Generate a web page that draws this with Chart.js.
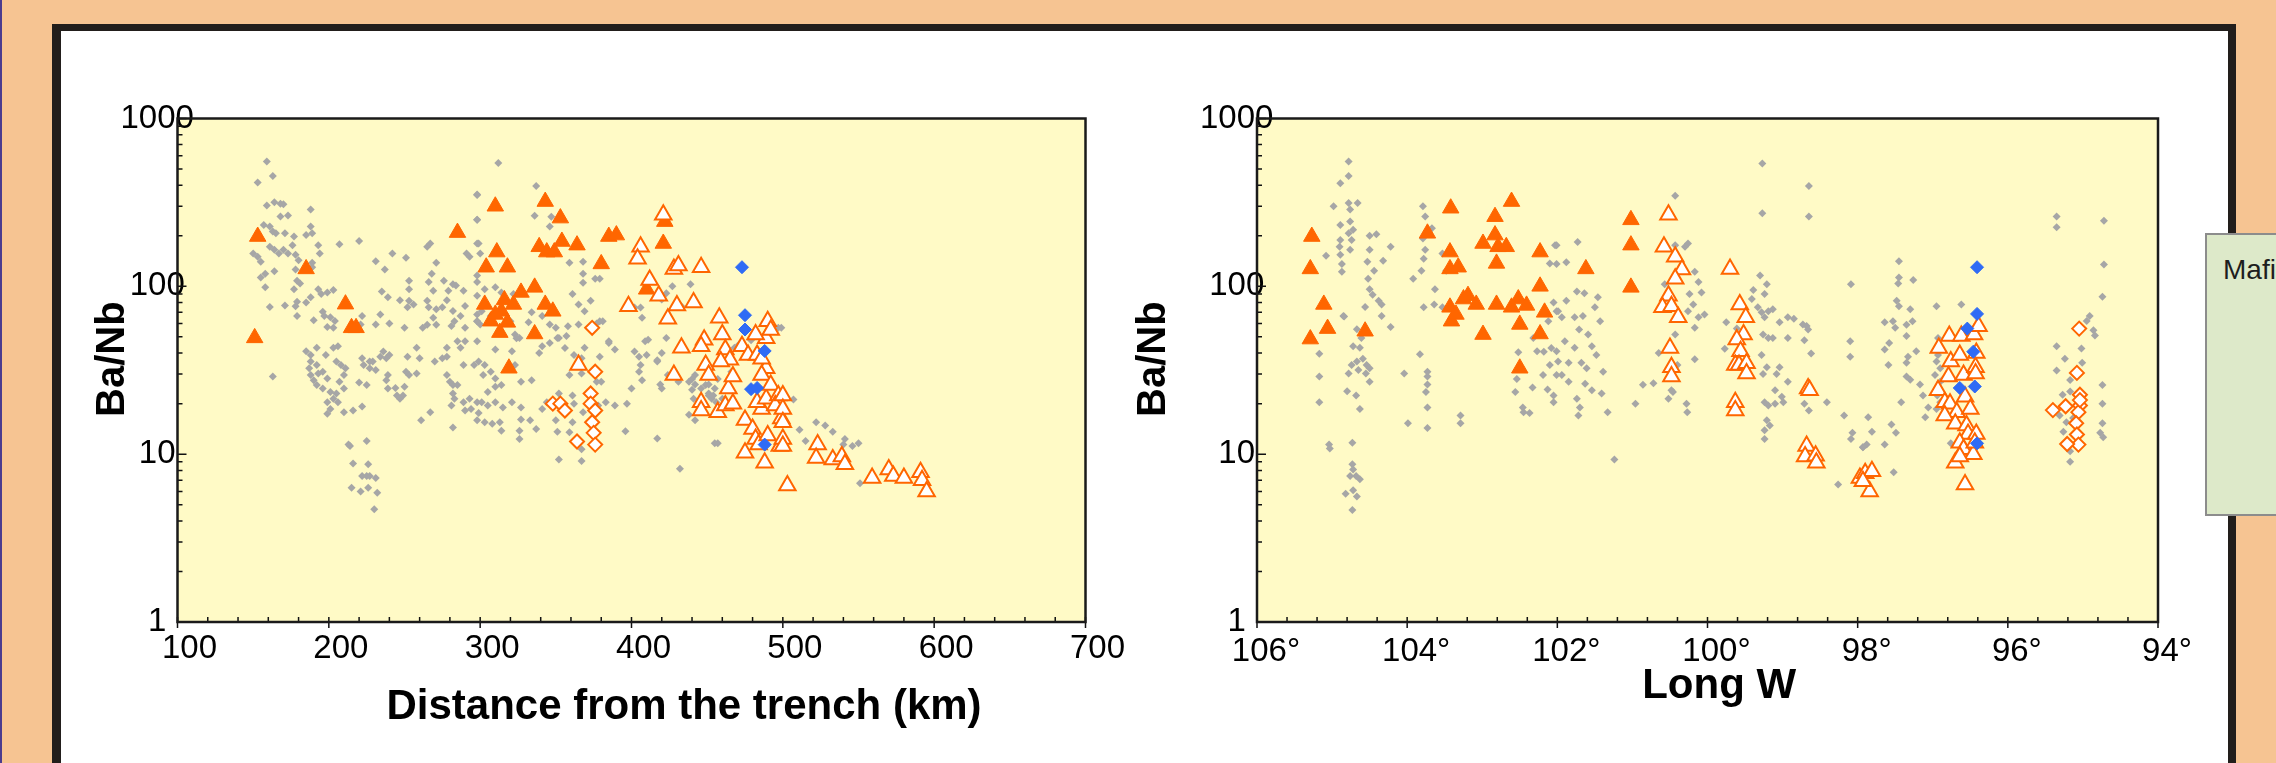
<!DOCTYPE html>
<html>
<head>
<meta charset="utf-8">
<script src="https://cdn.jsdelivr.net/npm/chart.js@4.4.1/dist/chart.umd.min.js"></script>
<style>
  html, body { margin: 0; padding: 0; }
  body {
    width: 2276px; height: 763px; overflow: hidden; position: relative;
    background: #F6C492; font-family: "Liberation Sans", Arial, sans-serif;
  }
  #edge { position: absolute; left: 0; top: 0; width: 2px; height: 763px; background: #4B3C8E; }
  #panel {
    position: absolute; left: 52px; top: 24px; width: 2167px; height: 800px;
    background: #fff; border-left: 9px solid #221E1B; border-top: 7px solid #221E1B;
    border-right: 8px solid #221E1B;
  }
  canvas { position: absolute; top: 40px; }
  #distChart { left: 60px; }
  #longChart { left: 1110px; }
  #legendBox {
    position: absolute; left: 2205px; top: 233px; width: 200px; height: 283px;
    box-sizing: border-box; background: #DDE9C9; border: 2px solid #8C8C8C;
  }
  #legendText {
    position: absolute; left: 2223px; top: 254px; font-size: 28px; line-height: 32px;
    color: #1E1E1E; white-space: nowrap;
  }
</style>
</head>
<body>
<div id="edge"></div>
<div id="panel"></div>
<canvas id="distChart" width="1080" height="723"></canvas>
<canvas id="longChart" width="1090" height="723"></canvas>
<div id="legendBox"></div>
<div id="legendText">Mafi</div>

<script>
// Ba/Nb against distance from the trench (km)
const grayDist = [
  [159,555],[163,455],[153,415],[159,303],[164,317],[168,310],[170,308],[188,287],[168,261],[173,264],
  [157,232],[161,227],[163,212],[165,207],[171,207],[177,198],[185,202],[188,227],[189,207],[193,176],
  [150,157],[153,150],[155,140],[161,172],[164,165],[167,157],[170,165],[173,157],[176,176],[178,154],
  [180,143],[194,157],[189,138],[207,178],[220,186],[155,113],[158,119],[164,123],[158,98.6],[178,126],
  [179,108],[177,96],[181,104],[189,130],[231,141],[237,126],[242,157],[251,148],[161,75.4],[171,77],
  [179,81],[178,76],[179,66.5],[185,80],[188,86],[193,96],[195,90],[199,92],[203,95],[190,62.7],
  [196,70.5],[197,66.5],[201,65.5],[199,57.2],[203,56.6],[204,62.1],[222,66.5],[221,59.3],[231,59.3],[235,93.2],
  [239,86],[234,68],[240,60],[247,82.7],[253,108],[253,96],[253,82],[252,75],[256,78],[250,56.6],
  [265,172],[267,180],[271,138],[268,119],[266,106],[269,94],[265,82],[266,75],[271,73],[269,65],
  [265,59],[262,56.6],[271,59],[275,75],[276,108],[279,94],[282,103],[284,101],[278,82.7],[282,71.4],
  [283,62],[281,58],[287,66.5],[290,76.4],[289,94],[298,88],[298,68],[298,62],[298,180],[298,249],
  [298,350],[298,116],[293,150],[291,157],[290,56.6],[290,47],[285,47],[296,34],[289,34],[287,43],
  [278,43],[278,38],[275,37.3],[270,35.6],[258,43],[260,37.3],[252,38],[258,30.2],[278,29.6],[280,27],
  [282,25.8],[285,25.8],[282,23],[281,19.5],[283,21.4],[289,20.4],[293,21.4],[294,18.6],[298,20.4],[298,15.9],
  [290,18.2],[282,14.4],[267,17.8],[261,15.9],[250,25.2],[249,22.4],[247,21.4],[245,22.4],[253,29.6],[251,31],
  [240,39],[236,40.9],[238,37.3],[234,38],[229,35.6],[222,37.3],[223,34],[227,32.5],[231,31.7],[239,29.6],
  [238,27.6],[239,24.6],[244,24.8],[185,41],[188,39],[192,43],[198,39],[203,43],[206,44],[188,35.6],
  [192,34],[187,32.5],[188,29.6],[190,27.6],[193,30.2],[196,31],[199,28.2],[192,25.8],[196,24.6],[201,23.5],
  [205,23],[203,21.4],[206,20.4],[199,20.4],[201,18.6],[199,17.4],[205,35.6],[208,34],[211,32.5],[210,29.6],
  [207,27],[210,24.6],[210,17.8],[216,18.2],[222,19.2],[220,26.7],[225,25.8],[227,35.6],[163,29],[213,11.4],
  [214,11.2],[225,12],[216,8.8],[226,8.7],[222,7.4],[225,7.4],[227,7.4],[231,7.2],[215,6.3],[221,6.0],
  [226,6.3],[232,5.9],[230,4.7],
  [312,543],[298,352],[337,396],[336,263],[347,260],[346,227],[298,249],[299,180],[300,157],[359,138],
  [368,140],[368,119],[368,105],[376,111],[379,111],[298,106],[310,98.6],[361,90],[365,78],[369,71],
  [373,82],[381,62],[379,62],[377,60],[365,59.3],[358,57.8],[357,50.6],[352,49.3],[350,56.6],[332,61],
  [323,51.6],[326,49.3],[339,40.1],[341,44],[346,45.9],[351,49.3],[356,42.9],[362,39],[367,37.3],[369,43],
  [379,38],[385,46],[389,42],[402,40.9],[405,38],[406,34],[405,31],[410,39],[411,48],[417,35.6],
  [420,24.6],[407,27.6],[397,20],[383,20.4],[380,27],[377,27],[367,30.2],[359,29.6],[361,22.4],[362,20],
  [368,17.8],[361,15.5],[359,13.5],[367,10.7],[367,9.1],[352,9.3],[351,13.6],[350,15.9],[337,14.1],[333,15.9],
  [326,13.8],[326,12.3],[327,16.1],[327,19],[334,27.6],[341,18.6],[344,20.4],[352,23],[321,20.4],[315,19],
  [303,15.5],[313,15.5],[308,15.2],[314,13.8],[299,17.6],[305,19.5],[310,20.4],[301,20.4],[305,23.5],[310,25.2],
  [314,25.8],[302,29.6],[307,31],[310,28.2],[303,34],[299,35.6],[310,42],[321,41],[327,27],[323,34],
  [324,49],[320,62],[300,59.3],[298,47],[307,66.5],[301,71],[298,62],[303,96],[314,92],[322,90],
  [334,70],[341,66.5],[346,59.3],[420,83.6],[423,91],[427,100],[439,103],[433,76],[423,49.3],[417,36.3],
  [406,74.7],[407,65],[402,74.7],[409,47],[419,26],[424,29.6],[420,40],[431,27],[438,27],[440,24.2],
  [442,29.6],[438,17.2],[442,15.9],[449,25.8],[455,24.6],[457,28],[446,24.6],[455,11.6],[457,11.6],[432,8.2],
  [417,12.4],[396,13.7],[451,22.4],[453,21.4],[456,20.4],[460,21.4],[466,31],[468,43],[471,45],[479,47.8],
  [495,56.6],[497,56.6],[400,24.6],[389,19.5],[378,19.5],[385,47],[440,28],[442,26],[451,26],[451,23],
  [454,22.4],[441,21.4],
  [499,56.6],[507,21.2],[511,14],[515,12],[522,15.5],[528,14.8],[533,13.6],[541,12.3],[540,11.4],[546,11.2],
  [550,11.6],[551,6.7]
];
const filledTriDist = [
  [153,198],[151,49.3],[185,127],[211,78.3],[215,56.6],[218,56.6],[285,209],[310,300],[343,320],[353,255],
  [311,160],[304,130],[318,130],[339,172],[344,160],[349,160],[354,185],[364,176],[380,136],[385,198],
  [390,202],[421,180],[422,243],[410,96],[327,92],[336,98.6],[303,78],[316,83],[322,78],[314,71],
  [343,78],[348,71],[307,62],[318,61],[313,53],[336,52],[319,32.5],[310,68]
];
const openTriDist = [
  [421,267],[406,172],[404,146],[428,127],[431,133],[446,130],[412,109],[418,88],[398,76],[430,77],
  [441,80],[424,64],[458,65],[433,43],[448,48],[446,44],[460,51.6],[462,42],[465,36.5],[459,35.6],
  [449,34],[451,29.6],[428,29.6],[365,34],[473,44],[477,39],[483,39],[464,24.6],[467,29],[446,20.4],
  [446,18.2],[457,17.8],[462,19.5],[467,20],[475,16],[480,14.1],[486,18.6],[483,20.4],[489,21.4],[489,32.5],
  [486,37],[489,49],[490,62],[492,55],[482,51.6],[486,29.6],[492,25.8],[497,22.4],[495,19.5],[499,16.3],
  [482,12.3],[475,10.2],[484,11.4],[488,8.9],[490,12.9],[498,11.2],[503,6.5],[500,22.4],[500,18.6],[500,15.5],
  [500,12.3],[500,11.2],[523,11.4],[522,9.5],[533,9.3],[539,9.7],[541,8.7],[559,7.2],[570,8.1],[573,7.4],
  [580,7.2],[591,7.8],[592,7.0],[595,6.0]
];
const openDiaDist = [
  [374,56.6],[376,31],[348,20],[353,20],[356,18.2],[373,23],[373,20],[376,18.2],[374,15.5],[375,13.4],
  [364,11.9],[376,11.4]
];
const blueDist = [[473,130],[475,67.3],[475,55.3],[488,41.2],[479,24.4],[483,24.8],[488,11.4]];

// Ba/Nb against longitude W (degrees)
const grayLong = [
  [104.78,555],[104.78,455],[104.89,411],[104.98,300],[104.78,314],[104.66,314],[104.76,287],[104.89,232],[104.76,243],[104.72,217],
  [104.78,207],[104.89,189],[104.74,189],[104.9,172],[104.76,165],[104.89,154],[104.87,136],[104.87,122],[105.08,152],[104.5,200],
  [104.41,204],[104.5,165],[104.53,140],[104.44,124],[104.32,142],[104.22,172],[104.52,111],[104.5,96],[104.46,89],[104.38,82],
  [104.34,78],[104.56,75.4],[104.34,66.5],[104.22,57.2],[104.85,66.5],[104.67,55.5],[104.61,49.3],[104.72,44],[104.63,43],[104.74,34],
  [104.67,35.6],[104.59,37],[104.54,34],[104.5,32.5],[104.55,30.2],[104.5,27],[104.78,30.2],[104.65,31.7],[104.8,23.7],[104.68,22.4],
  [104.63,18.6],[105.17,39.6],[105.17,29],[105.17,20.4],[105.04,11.4],[105.03,10.8],[104.73,11.7],[104.73,8.7],[104.72,8.1],[104.68,7.4],
  [104.76,7.4],[104.63,7.1],[104.82,5.8],[104.72,6.1],[104.67,5.6],[104.73,4.65],[104.84,66],[103.79,300],[103.76,261],[103.67,222],
  [103.79,193],[103.76,165],[103.78,146],[103.81,124],[103.92,111],[103.63,96],[103.64,78],[103.78,75],[103.53,157],[103.48,124],
  [103.53,75],[103.83,39.4],[103.73,31],[103.73,29],[103.73,26],[103.75,23.5],[103.73,19],[104.04,30.2],[103.99,15.3],[103.73,14.3],
  [103.29,17],[103.29,15.3],[102.52,40.5],[102.54,28],[102.56,23.5],[102.46,19],[102.37,17.6],[102.45,17.8],[102.33,25],[102.32,49.3],
  [102.27,41],[102.18,40.8],[102.19,29.6],[102.13,24.3],[102.1,34],[102.08,42.9],[102.05,22.4],[102.05,20.4],[102.12,62],[102.05,80],
  [102.1,137],[102.03,176],[102.01,71],[102.01,41],[102.01,29.6],
  [102.01,176],[101.73,184],[101.88,139],[102.01,136],[101.74,93],[101.64,91],[101.88,82],[101.99,71],[101.94,65.5],[101.77,65.5],
  [101.66,66.5],[101.71,55.3],[101.46,86],[101.5,75],[101.43,62],[101.59,51.6],[101.54,44],[101.48,39],[101.77,43],[101.9,47],
  [101.99,35.6],[101.85,35],[101.68,35],[101.61,32.5],[101.39,31],[101.94,29.6],[101.85,27],[101.63,26.3],[101.54,24],[101.41,23],
  [101.74,21.4],[101.7,19],[101.72,17],[101.33,17.8],[101.24,9.3],[100.96,20],[100.86,25.9],[100.72,26.5],[100.65,40],[100.52,21.4],
  [100.46,23.5],[100.28,20],[100.27,17.8],[100.17,36.8],[100.43,347],[100.43,176],[100.3,172],[100.26,180],[100.17,122],[100.12,106],
  [100.08,92],[100.24,90],[100.19,78],[100.26,71],[100.12,65.5],[100.04,68],[100.17,56.6],[100.57,103],[100.55,85],[100.43,51.6],
  [100.4,34],[100.48,24],[99.27,540],[99.27,273],[98.65,396],[98.65,261],[98.09,103],[99.3,116],[99.39,95],[99.21,103],
  [99.24,90],[99.41,84],[99.33,75],[99.28,70],[99.19,71],[99.13,73],[99.24,65.5],[99.75,61],[99.61,56],[99.77,42.4],
  [99.26,51.6],[99.19,49.3],[99.13,49.3],[98.93,49.3],[98.93,65.5],[98.85,64],[98.73,59.3],[98.68,58],[98.66,55.3],[98.71,47.8],
  [98.62,39.8],[99.04,61],[99.28,39],[99.21,33],[99.26,30],[99.08,30],[99.04,33],[98.93,27],[99.1,24],[99.01,22],
  [98.99,20.4],[99.24,20.4],[99.19,19.5],[99.1,20],[99.21,15.9],[99.17,14.8],[99.24,13.9],[99.24,12.3],[98.71,20],[98.65,18.2],
  [98.41,20.4],[98.18,17],[98.1,38],[98.1,47],[98.07,13.4],[98.09,12.3],[97.93,11],[98.26,6.6],
  [97.45,141],[97.45,113],[97.46,104],[97.26,109],[97.48,82],[97.45,76],[97.3,73],[97.27,62],[97.64,61],[97.53,62],
  [97.5,56.6],[97.35,59],[97.35,50.6],[97.58,46],[97.64,42],[97.59,34],[97.35,35],[97.33,38],[97.22,41],[97.35,29],
  [97.3,27.8],[97.17,26],[97.13,22.4],[97.06,19],[97.1,16.6],[97.42,20.4],[96.95,76],[96.62,78],[96.93,49.3],[96.95,35.6],
  [96.97,29.6],[96.9,27],[96.94,22.4],[96.95,18.6],[96.9,20.4],[97.86,16.6],[97.81,13.6],[97.88,11.4],[97.93,11],[97.64,11.4],
  [97.55,15],[97.49,13.4],[97.52,7.8],[96.76,11.6],[95.35,261],[95.35,225],[94.72,246],[94.72,135],[94.74,86.6],[94.91,66.5],
  [94.95,62.1],[94.86,54.7],[94.84,50.9],[95.35,44],[95.02,42.6],[95.24,37],[95.01,35],[95.35,31.5],[95.17,27.7],[94.74,25.8],
  [95.27,22.6],[95.17,23.6],[94.74,20],[95.31,17],[95.13,16.4],[95.22,15.5],[95.26,13.6],[94.74,15.3],[94.77,13.4],[94.73,12.6],
  [95.17,10.4],[95.17,9.0],[96.9,32.5],[96.93,39],[96.86,28]
];
const filledTriLong = [
  [105.27,198],[105.29,127],[105.11,78],[105.06,56],[105.29,48.5],[104.56,54],[103.73,207],[103.42,292],[103.43,160],[103.43,127],
  [103.32,130],[102.83,260],[102.99,180],[102.83,202],[102.79,172],[102.68,172],[102.81,137],[102.61,320],[103.19,88],[103.08,78],
  [102.81,78],[103.43,75],[103.41,62],[102.61,75],[102.52,84],[102.41,77],[102.23,100],[102.17,70],[102.5,59.3],[102.99,51.6],
  [102.23,52],[102.5,32.5],[102.23,160],[103.25,84],[103.35,68],[101.02,249],[101.02,176],[101.02,98.6],[101.62,127]
];
const openTriLong = [
  [100.52,267],[100.58,172],[100.43,150],[100.34,126],[100.43,111],[100.52,88],[100.6,75],[100.48,76],[100.39,65.5],[100.5,42.9],
  [100.48,33],[100.48,29],[99.7,127],[99.57,78],[99.49,65.5],[99.52,51.6],[99.61,48.3],[99.56,41],[99.63,34],[99.58,34],
  [99.48,34.8],[99.48,30.2],[99.63,20.4],[99.63,18.2],[98.66,24.6],[98.64,24],[98.68,11.2],[98.7,9.7],[98.56,9.8],[98.55,8.9],
  [97.97,7.2],[97.9,7.7],[97.81,7.9],[97.84,6.0],[97.93,6.9],[96.78,50.6],[96.62,50.6],[96.45,51.6],[96.39,57.8],[96.92,42.9],
  [96.76,35.6],[96.64,39],[96.42,40],[96.79,29],[96.59,29.6],[96.43,33],[96.43,30.2],[96.93,24],[96.84,20.4],[96.77,20],
  [96.68,17.8],[96.57,22],[96.5,18.6],[96.84,17],[96.7,15.2],[96.55,14.8],[96.53,13.2],[96.42,13.2],[96.64,11.7],[96.59,10.7],
  [96.46,10],[96.7,8.9],[96.57,6.6],[96.64,9.7],[96.44,11.7]
];
const openDiaLong = [
  [95.05,56],[95.08,30.5],[95.04,22.6],[95.4,18.3],[95.23,19.3],[95.04,19.5],[95.06,17.8],[95.09,15.3],[95.08,13.1],[95.06,11.4],
  [95.21,11.5],[95.04,21]
];
const blueLong = [[96.41,130],[96.41,68.5],[96.54,56],[96.46,40.8],[96.64,24.8],[96.44,25.3],[96.41,11.6]];

// axis ticks
const yTickValues = [1, 10, 100, 1000];
const distTicks = [100, 200, 300, 400, 500, 600, 700];
const longTicks = [94, 96, 98, 100, 102, 104, 106];

const ORANGE = '#FF6600';
const GRAY = '#A6A6A6';
const BLUE = '#2F6BF5';
const FONT = '"Liberation Sans", Arial, Helvetica, sans-serif';
const NB = '\u00A0';

// plot background (under the tick labels, which overlap it), inner tick marks and the box
const framePlugin = {
  id: 'frame',
  beforeDraw(chart, args, opts) {
    const { ctx, chartArea: a } = chart;
    ctx.save();
    ctx.fillStyle = opts.fill;
    ctx.fillRect(a.left, a.top, a.right - a.left, a.bottom - a.top);
    ctx.restore();
  },
  afterDatasetsDraw(chart, args, opts) {
    const { ctx, chartArea: a, scales: { x, y } } = chart;
    ctx.save();
    ctx.strokeStyle = '#111';
    ctx.lineWidth = 1.5;
    ctx.beginPath();
    for (let d = 1; d < 1000; d *= 10) {
      for (let k = 1; k <= 10; k++) {
        const py = y.getPixelForValue(d * k);
        const len = (k === 1 || k === 10) ? 9 : 5;
        ctx.moveTo(a.left, py);
        ctx.lineTo(a.left + len, py);
      }
    }
    const n = Math.round((x.max - x.min) / opts.xMinor);
    for (let i = 0; i <= n; i++) {
      const px = x.getPixelForValue(x.min + i * opts.xMinor);
      const major = i % opts.perMajor === 0;
      ctx.moveTo(px, a.bottom - 5);
      ctx.lineTo(px, a.bottom + (major ? 6 : 0));
    }
    ctx.stroke();
    ctx.strokeStyle = '#1A1A1A';
    ctx.lineWidth = 2.5;
    ctx.strokeRect(a.left, a.top, a.right - a.left, a.bottom - a.top);
    ctx.restore();
  }
};

function series(points, style, radius, fill, stroke, width) {
  return {
    data: points.map(([x, y]) => ({ x, y })),
    pointStyle: style,
    pointRadius: radius,
    backgroundColor: fill,
    borderColor: stroke,
    borderWidth: width,
    showLine: false
  };
}

function buildChart(id, s) {
  return new Chart(document.getElementById(id), {
    type: 'scatter',
    data: {
      datasets: [
        series(s.blue, 'rectRot', 6.5, BLUE, BLUE, 1),
        series(s.openTri, 'triangle', 9.5, '#FFFFFF', ORANGE, 2),
        series(s.filledTri, 'triangle', 9.5, ORANGE, ORANGE, 1),
        series(s.openDia, 'rectRot', 7, '#FFFFFF', ORANGE, 2),
        series(s.gray, 'rectRot', 4, GRAY, GRAY, 0)
      ]
    },
    plugins: [framePlugin],
    options: {
      responsive: false,
      animation: false,
      devicePixelRatio: 1,
      events: [],
      layout: { padding: { left: 0, top: 78.5, right: s.padRight, bottom: 0 } },
      plugins: {
        legend: { display: false },
        tooltip: { enabled: false },
        frame: { fill: '#FFFAC6', xMinor: s.xMinor, perMajor: 5 }
      },
      scales: {
        x: {
          type: 'linear',
          position: 'bottom',
          min: s.xMin,
          max: s.xMax,
          reverse: s.reverse,
          afterBuildTicks: sc => { sc.ticks = s.xTicks.map(v => ({ value: v })); },
          afterFit: sc => { sc.height = 141; sc.paddingLeft = 0; sc.paddingRight = 0; },
          grid: { display: false, drawTicks: false },
          border: { display: false },
          ticks: {
            callback: s.xLabel,
            font: { family: FONT, size: 33 },
            color: '#000',
            padding: s.xPad,
            labelOffset: s.xOffset,
            maxRotation: 0,
            autoSkip: false
          },
          title: {
            display: true,
            text: s.xTitle,
            color: '#000',
            font: { family: FONT, size: 42, weight: 'bold', lineHeight: 1.2 },
            padding: { top: 0, bottom: s.xTitlePad }
          }
        },
        y: {
          type: 'logarithmic',
          position: 'left',
          min: 1,
          max: 1000,
          afterBuildTicks: sc => { sc.ticks = yTickValues.map(v => ({ value: v })); },
          afterFit: sc => { sc.width = s.yWidth; sc.paddingTop = 0; sc.paddingBottom = 0; },
          grid: { display: false, drawTicks: false },
          border: { display: false },
          // mirrored so the labels are not clipped where they run over the axis line
          ticks: {
            callback: v => String(v),
            font: { family: FONT, size: 33 },
            color: '#000',
            mirror: true,
            padding: -57,
            crossAlign: 'center'
          },
          title: {
            display: true,
            text: NB + NB + 'Ba/Nb',
            color: '#000',
            font: { family: FONT, size: 40, weight: 'bold', lineHeight: 1.2 },
            padding: { top: s.yTitlePad, bottom: 0 }
          }
        }
      }
    }
  });
}

buildChart('distChart', {
  gray: grayDist, filledTri: filledTriDist, openTri: openTriDist, openDia: openDiaDist, blue: blueDist,
  xMin: 100, xMax: 700, reverse: false, xTicks: distTicks, xMinor: 20,
  xLabel: v => String(v), xTitle: NB.repeat(9) + 'Distance from the trench (km)',
  padRight: 54.5, yWidth: 117.5, xPad: 7, xOffset: 12, xTitlePad: 30, yTitlePad: 29
});

buildChart('longChart', {
  gray: grayLong, filledTri: filledTriLong, openTri: openTriLong, openDia: openDiaLong, blue: blueLong,
  xMin: 94, xMax: 106, reverse: true, xTicks: longTicks, xMinor: 0.4,
  xLabel: v => v + '°', xTitle: NB + NB + 'Long W',
  padRight: 42, yWidth: 147, xPad: 10, xOffset: 9, xTitlePad: 51, yTitlePad: 20
});
</script>
</body>
</html>
